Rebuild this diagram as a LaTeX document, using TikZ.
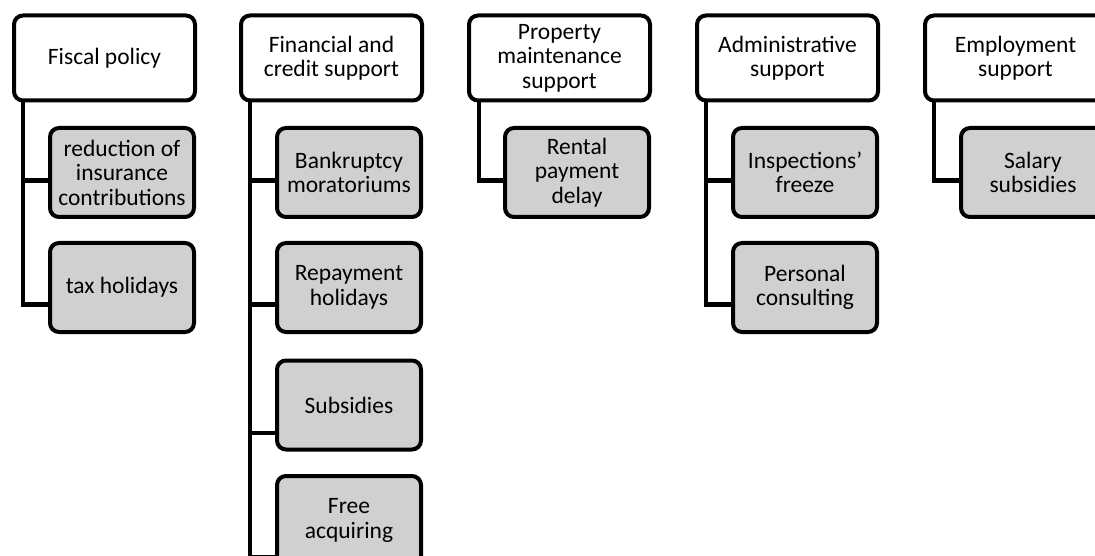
\documentclass[tikz,border=0pt]{standalone}
\usepackage{fontspec}
\setmainfont{Carlito}
\usetikzlibrary{calc}
\definecolor{boxgray}{RGB}{208,208,208}
\begin{document}
\begin{tikzpicture}[x=1pt,y=-1pt,
  box/.style={draw=black, line width=4pt, rounded corners=9pt, inner sep=0pt,
    align=center, font=\fontsize{23.5}{24.5}\selectfont},
  parentbox/.style={box, fill=white, minimum width=181pt, minimum height=85pt},
  childbox/.style={box, fill=boxgray, minimum width=144pt, minimum height=89pt},
  conn/.style={line width=4.5pt, line cap=butt}]
\useasboundingbox (0,0) rectangle (1095,556);
\clip (0,0) rectangle (1095,556);

% x positions of the vertical connector lines
\coordinate (v1) at (23,100);
\coordinate (v2) at (250,100);
\coordinate (v3) at (479,100);
\coordinate (v4) at (706,100);
\coordinate (v5) at (934,100);

% parents
\node[parentbox] (p1) at (104.5,58) {Fiscal policy};
\node[parentbox] (p2) at (331.5,58) {Financial and\\credit support};
\node[parentbox] (p3) at (559.5,58) {Property\\maintenance\\support};
\node[parentbox] (p4) at (787.5,58) {Administrative\\support};
\node[parentbox] (p5) at (1015.5,58) {Employment\\support};

% children
\node[childbox] (c11) at (122,172.5) {reduction of\\insurance\\contributions};
\node[childbox] (c12) at (122,287.5) {tax holidays};

\node[childbox] (c21) at (349,172.5) {Bankruptcy\\moratoriums};
\node[childbox] (c22) at (349,287.5) {Repayment\\holidays};
\node[childbox] (c23) at (349,405) {Subsidies};
\node[childbox] (c24) at (349,520.5) {Free\\acquiring};

\node[childbox] (c31) at (577,172.5) {Rental\\payment\\delay};

\node[childbox] (c41) at (805,172.5) {Inspections’\\freeze};
\node[childbox] (c42) at (805,287.5) {Personal\\consulting};

\node[childbox] (c51) at (1033,172.5) {Salary\\subsidies};

\draw[conn] (v1 |- p1.south) |- ($(c11.north west)!0.584!(c11.south west)$);
\draw[conn] (v1 |- p1.south) |- ($(c12.north west)!0.685!(c12.south west)$);

\draw[conn] (v2 |- p2.south) |- ($(c21.north west)!0.584!(c21.south west)$);
\draw[conn] (v2 |- p2.south) |- ($(c22.north west)!0.685!(c22.south west)$);
\draw[conn] (v2 |- p2.south) |- ($(c23.north west)!0.8!(c23.south west)$);
\draw[conn] (v2 |- p2.south) |- ($(c24.north west)!0.9!(c24.south west)$);

\draw[conn] (v3 |- p3.south) |- ($(c31.north west)!0.584!(c31.south west)$);

\draw[conn] (v4 |- p4.south) |- ($(c41.north west)!0.584!(c41.south west)$);
\draw[conn] (v4 |- p4.south) |- ($(c42.north west)!0.685!(c42.south west)$);

\draw[conn] (v5 |- p5.south) |- ($(c51.north west)!0.584!(c51.south west)$);
\end{tikzpicture}
\end{document}
